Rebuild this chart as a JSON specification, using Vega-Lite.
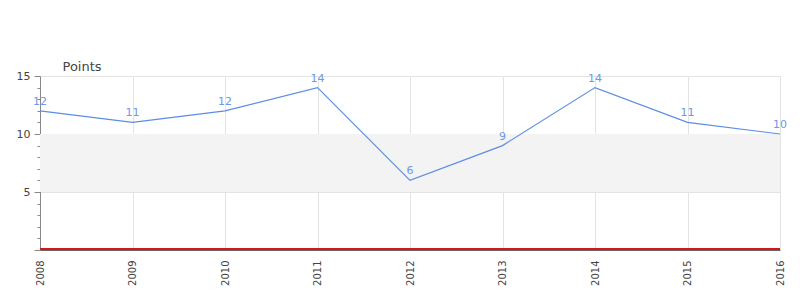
{
  "$schema": "https://vega.github.io/schema/vega-lite/v6.json",
  "width": 740,
  "height": 174,
  "autosize": {"type": "none"},
  "padding": {"left": 40, "top": 76, "right": 20, "bottom": 50},
  "background": "white",
  "config": {
    "view": {"stroke": null},
    "font": "DejaVu Sans",
    "axis": {"labelFont": "DejaVu Sans", "titleFont": "DejaVu Sans", "labelColor": "#444", "titleColor": "#444", "labelFontSize": 11, "gridColor": "#e3e3e3"}
  },
  "data": {"values": [
    {"year": "2008", "points": 12},
    {"year": "2009", "points": 11},
    {"year": "2010", "points": 12},
    {"year": "2011", "points": 14},
    {"year": "2012", "points": 6},
    {"year": "2013", "points": 9},
    {"year": "2014", "points": 14},
    {"year": "2015", "points": 11},
    {"year": "2016", "points": 10}
  ]},
  "encoding": {
    "x": {"field": "year", "type": "ordinal", "scale": {"type": "point", "padding": 0},
      "axis": {"title": null, "labelAngle": -90, "labelPadding": 10, "labelFontSize": 10, "tickSize": 0, "domainColor": "#666", "domainWidth": 1, "grid": true}},
    "y": {"field": "points", "type": "quantitative", "scale": {"domain": [0, 15], "nice": false},
      "axis": {
        "values": [0,1,2,3,4,5,6,7,8,9,10,11,12,13,14,15],
        "labelExpr": "datum.value % 5 === 0 && datum.value > 0 ? datum.label : ''",
        "tickSize": {"condition": {"test": "datum.value % 5 === 0", "value": 6}, "value": 3},
        "tickColor": "#888",
        "domainColor": "#888",
        "labelPadding": 4,
        "grid": true,
        "gridOpacity": {"condition": {"test": "datum.value % 5 === 0", "value": 1}, "value": 0},
        "title": "Points",
        "titleAngle": 0,
        "titleAlign": "left",
        "titleBaseline": "alphabetic",
        "titleX": 22,
        "titleY": -6,
        "titleFontSize": 13,
        "titleFontWeight": "normal"
      }}
  },
  "layer": [
    {
      "mark": {"type": "rect", "color": "#f3f3f3"},
      "encoding": {
        "x": {"value": 0},
        "x2": {"value": 740},
        "y": {"datum": 5},
        "y2": {"datum": 10}
      }
    },
    {
      "mark": {"type": "line", "color": "#5b8de6", "strokeWidth": 1.2}
    },
    {
      "mark": {"type": "text", "color": "#6e98e8", "dy": -9, "fontSize": 11},
      "encoding": {
        "text": {"field": "points", "type": "quantitative"}
      }
    },
    {
      "mark": {"type": "rule", "color": "#d01818", "strokeWidth": 1, "yOffset": -1},
      "encoding": {"y": {"datum": 0}, "x": {"value": 0}, "x2": {"value": 740}}
    }
  ]
}
